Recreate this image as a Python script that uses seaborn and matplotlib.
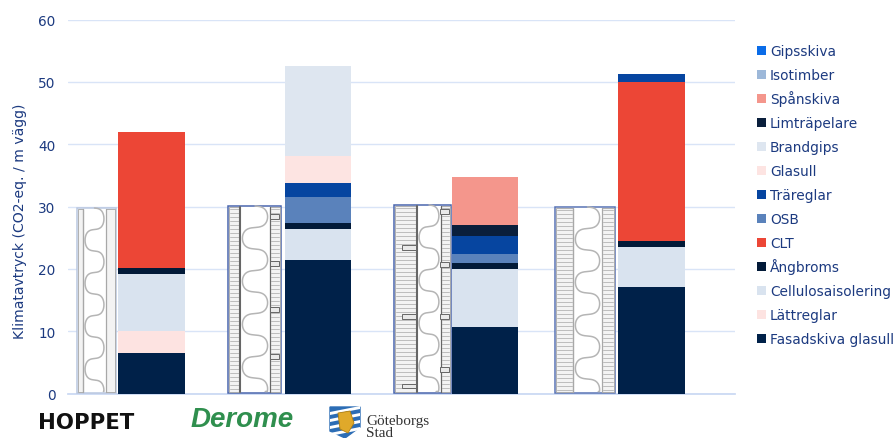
import numpy as np
import matplotlib
matplotlib.use("Agg")
import matplotlib.pyplot as plt
from matplotlib.patches import Rectangle, Polygon
import seaborn as sns

walls = ["Vägg 1", "Vägg 2", "Vägg 3", "Vägg 4"]
gipsskiva = [0, 0, 0, 0]
isotimber = [0, 0, 0, 0]
spanskiva = [0, 0, 7.8, 0]
limtrapelare = [0, 0, 1.8, 0]
brandgips = [0, 14.5, 0, 0]
glasull = [0, 4.4, 0, 0]
trareglar = [0, 2.2, 2.8, 1.3]
osb = [0, 4.1, 1.4, 0]
clt = [21.8, 0, 0, 25.5]
angbroms = [1.1, 1.0, 1.0, 1.0]
cellulosa = [9.1, 5.0, 9.3, 6.4]
lattreglar = [3.5, 0, 0, 0]
fasadskiva = [6.5, 21.4, 10.7, 17.1]

# bottom to top stacking order
series = [
    ("Fasadskiva glasull", fasadskiva, "#002149"),
    ("Lättreglar", lattreglar, "#fde3e1"),
    ("Cellulosaisolering", cellulosa, "#d9e3ef"),
    ("Ångbroms", angbroms, "#021a38"),
    ("CLT", clt, "#ec4636"),
    ("OSB", osb, "#5a82bb"),
    ("Träreglar", trareglar, "#0645a0"),
    ("Glasull", glasull, "#fde4e2"),
    ("Brandgips", brandgips, "#dee6f0"),
    ("Limträpelare", limtrapelare, "#0a1f3c"),
    ("Spånskiva", spanskiva, "#f4968c"),
    ("Isotimber", isotimber, "#9db8d9"),
    ("Gipsskiva", gipsskiva, "#0a6ce8"),
]
y_ticks = [0, 10, 20, 30, 40, 50, 60]
TXT = "#1c3a80"
W, H = 894, 439

sns.set_theme(style="white")
plt.rcParams["font.family"] = ["DejaVu Sans"]
fig = plt.figure(figsize=(W / 100, H / 100), dpi=100)
ax = fig.add_axes([68 / W, 1 - 394.5 / H, (735 - 68) / W, 374 / H])

bottom = np.zeros(len(walls))
for name, vals, col in series:
    sns.barplot(x=walls, y=vals, bottom=bottom, color=col, saturation=1,
                width=0.4, ax=ax, zorder=3, linewidth=0, errorbar=None)
    bottom = bottom + np.array(vals)

ax.set_ylim(0, 60)
ax.set_xlim(-0.5, 3.5)
ax.set_yticks(y_ticks)
ax.set_xticks([])
ax.set_xlabel("")
ax.set_ylabel("Klimatavtryck (CO2-eq. / m vägg)", color=TXT, fontsize=10.1)
ax.yaxis.set_label_coords(-0.062, 0.4626)
ax.tick_params(axis="y", length=0, labelsize=9.8, labelcolor=TXT, pad=9)
ax.grid(axis="y", color="#d9e4f7", linewidth=1, zorder=0)
ax.set_axisbelow(True)
for s in ["top", "right", "left"]:
    ax.spines[s].set_visible(False)
ax.spines["bottom"].set_color("#c9d8f3")

# overlay in pixel coordinates for legend, illustrations and logos
ov = fig.add_axes([0, 0, 1, 1], zorder=5)
ov.set_xlim(0, W)
ov.set_ylim(H, 0)
ov.axis("off")
ov.patch.set_alpha(0)

# legend rows on an even pitch
for i, (name, _, col) in enumerate(reversed(series)):
    yc = 51 + i * 24
    ov.add_patch(Rectangle((757, yc - 4), 8.5, 8.5, fc=col, ec="none"))
    ov.text(770, yc + 5, name, color=TXT, fontsize=9.95, va="baseline", ha="left")


def wall(x0, x1, top, c0, c1, border, ladder=False, dark=False, boxes=()):
    ov.add_patch(Rectangle((x0, top), x1 - x0, 394 - top, fc="white",
                           ec=border, lw=1.1, zorder=2))
    # insulation serpentine
    p = 43.0
    th = np.linspace(0, 2 * np.pi * (394 - top) / p, 900)
    xs = (c0 + c1) / 2 + (c1 - c0) * 0.45 * np.sin(th)
    ys = top + p * th / (2 * np.pi) - 0.85 * p / (4 * np.pi) * np.sin(2 * th)
    ys = np.minimum(ys, 392.5)
    ov.plot(xs, ys, color="#b5b5b5", lw=1.1, zorder=3)
    # stud layers either side
    for a, b in [(x0 + 1, c0 - 1), (c1 + 1, x1 - 1)]:
        ov.add_patch(Rectangle((a, top + 1), b - a, 392 - top, fc="#f3f3f3",
                               ec="#a5a5a5", lw=0.6, zorder=3))
        if ladder:
            for y in np.arange(top + 3, 393, 4.0):
                ov.plot([a + 1, b - 1], [y, y], color="#bdbdbd", lw=0.7, zorder=4)
    line = "#666666" if dark else "#a8a8a8"
    ov.plot([c0 - 1, c0 - 1], [top + 1, 393], color=line, lw=1.5 if dark else 1.0, zorder=5)
    ov.plot([c1 + 1, c1 + 1], [top + 1, 393], color=line, lw=0.9, zorder=5)
    for bx0, bx1, by in boxes:
        ov.add_patch(Rectangle((bx0, by), bx1 - bx0, 4.5, fc="#e9e9e9",
                               ec="#666666", lw=0.7, zorder=6))


wall(77, 116, 209, 84, 105, "#b9c7e0")
wall(228, 281, 207, 241, 269, "#4a66ad", ladder=True, dark=True,
     boxes=[(270, 279, 215), (270, 279, 262), (270, 279, 308), (270, 279, 355)])
wall(394, 451, 206, 418, 440, "#4a66ad", ladder=True, dark=True,
     boxes=[(402, 416, 246), (402, 416, 315), (402, 416, 385),
            (440, 449, 210), (440, 449, 263), (440, 449, 315), (440, 449, 368)])
wall(555, 615, 208, 574, 601, "#5a74b5", ladder=True)

# logos as text
ov.text(38, 423, "HOPPET", fontfamily="DejaVu Sans", fontweight="bold", fontsize=15.3,
        color="#111111", va="center", ha="left")
ov.text(191, 420, "Derome", fontfamily="Liberation Sans", fontweight="bold", style="italic",
        fontsize=20, color="#2f8f4e", va="center", ha="left")
ov.add_patch(Polygon([(330, 408), (360, 408), (360, 428), (345, 439), (330, 432)],
                     closed=True, fc="#2c6db5", ec="#2c6db5", zorder=2))
for k in range(4):
    ov.add_patch(Polygon([(330, 413 + k * 7), (360, 407 + k * 7), (360, 410 + k * 7), (330, 416 + k * 7)],
                         closed=True, fc="white", ec="none", zorder=3))
ov.add_patch(Polygon([(338, 414), (350, 412), (354, 424), (348, 434), (340, 430)],
                     closed=True, fc="#e0a92a", ec="#b07f10", lw=0.6, zorder=4))
ov.text(366, 425, "Göteborgs", fontfamily="Liberation Serif", fontsize=11,
        color="#333333", va="baseline", ha="left")
ov.text(366, 437.5, "Stad", fontfamily="Liberation Serif", fontsize=11,
        color="#333333", va="baseline", ha="left")

fig.savefig("out.png", dpi=100)
